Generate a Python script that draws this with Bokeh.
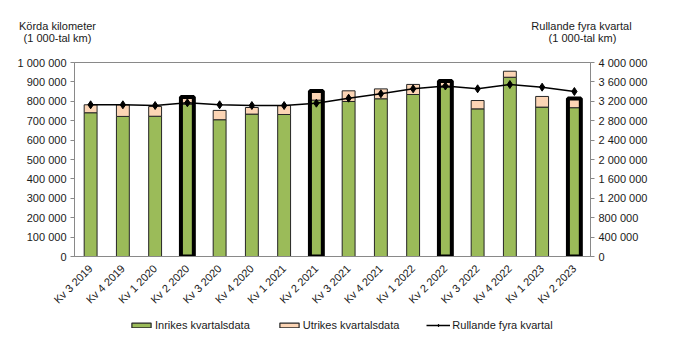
import math
from bokeh.plotting import figure
from bokeh.models import (FactorRange, Range1d, LinearAxis, FixedTicker, CustomJSTickFormatter,
                          Legend, LegendItem, ColumnDataSource, Column, Row)
from bokeh.core.properties import value
from bokeh.embed import file_html
from bokeh.resources import INLINE

categories = ["Kv 3 2019", "Kv 4 2019", "Kv 1 2020", "Kv 2 2020", "Kv 3 2020", "Kv 4 2020",
              "Kv 1 2021", "Kv 2 2021", "Kv 3 2021", "Kv 4 2021", "Kv 1 2022", "Kv 2 2022",
              "Kv 3 2022", "Kv 4 2022", "Kv 1 2023", "Kv 2 2023"]
inrikes = [741000, 722000, 723000, 785000, 705000, 734000, 732000, 806000,
           799000, 813000, 835000, 872000, 761000, 924000, 770000, 767000]
utrikes = [41000, 60000, 50000, 37000, 48000, 34000, 46000, 47000,
           55000, 51000, 52000, 33000, 43000, 31000, 55000, 47000]
rullande = [3128000, 3128000, 3113000, 3169000, 3128000, 3113000, 3113000, 3161000,
            3264000, 3355000, 3458000, 3515000, 3458000, 3546000, 3491000, 3402000]
markerade = ["Kv 2 2020", "Kv 2 2021", "Kv 2 2022", "Kv 2 2023"]

left_ticks = list(range(0, 1000001, 100000))
right_ticks = list(range(0, 4000001, 400000))

left_title = ["Körda kilometer", "(1 000-tal km)"]
right_title = ["Rullande fyra kvartal", "(1 000-tal km)"]
series_names = ["Inrikes kvartalsdata", "Utrikes kvartalsdata", "Rullande fyra kvartal"]

FONT = "Liberation Sans"
TXT = "#1a1a1a"
GRAY = "#898989"
GREEN = "#9BBB59"
PEACH = "#FCD5B5"
OUT = "#262626"
W = 678
TOP_H = 50
MAIN_H = 263
LEG_H = 354 - TOP_H - MAIN_H

src = ColumnDataSource(dict(cat=categories, inrikes=inrikes, utrikes=utrikes, rullande=rullande))
tot = {c: i + u for c, i, u in zip(categories, inrikes, utrikes)}
hl = ColumnDataSource(dict(cat=markerade, top=[tot[c] for c in markerade]))


def strip(h, x_range, y_range):
    f = figure(width=W, height=h, x_range=x_range, y_range=y_range,
               output_backend="svg", toolbar_location=None,
               min_border_left=0, min_border_right=0, min_border_top=0, min_border_bottom=0)
    f.axis.visible = False
    f.grid.visible = False
    f.outline_line_color = None
    return f


# ---- title strip ----
t = strip(TOP_H, Range1d(0, W), Range1d(0, TOP_H))
t.text(x=[57, 57, 581, 582], y=[TOP_H - 25, TOP_H - 37, TOP_H - 25, TOP_H - 37],
       text=left_title + right_title,
       text_align="center", text_baseline="middle", text_font=value(FONT),
       text_font_size="11px", text_color=TXT)

# ---- main chart ----
p = figure(width=W, height=MAIN_H, x_range=FactorRange(*categories, range_padding=0),
           y_range=Range1d(0, 1000000), output_backend="svg", toolbar_location=None,
           min_border_left=74, min_border_right=88, min_border_top=62 - TOP_H,
           min_border_bottom=MAIN_H - (62 - TOP_H) - 194)
p.extra_y_ranges = {"r": Range1d(0, 4000000)}
p.xgrid.grid_line_color = None
p.ygrid.grid_line_color = None
p.outline_line_color = GRAY

fmt_code = r"return Math.round(tick).toString().replace(/\B(?=(\d{3})+(?!\d))/g, ' ');"

yl = p.yaxis[0]
yl.ticker = FixedTicker(ticks=left_ticks)
yl.formatter = CustomJSTickFormatter(code=fmt_code)

yr = LinearAxis(y_range_name="r", ticker=FixedTicker(ticks=right_ticks),
                formatter=CustomJSTickFormatter(code=fmt_code))
p.add_layout(yr, "right")

for ax in (yl, yr):
    ax.axis_line_color = GRAY
    ax.major_tick_line_color = GRAY
    ax.major_tick_out = 4
    ax.major_tick_in = 0
    ax.minor_tick_line_color = None
    ax.major_label_text_font = FONT
    ax.major_label_text_font_size = "11px"
    ax.major_label_text_color = TXT
    ax.major_label_standoff = 4

xa = p.xaxis[0]
xa.axis_line_color = GRAY
xa.major_tick_line_color = None
xa.minor_tick_line_color = None
xa.major_label_orientation = math.pi / 4
xa.major_label_text_font = FONT
xa.major_label_text_font_size = "11px"
xa.major_label_text_color = TXT
xa.major_label_standoff = 4

p.vbar_stack(["inrikes", "utrikes"], x="cat", width=0.4, source=src,
             fill_color=[GREEN, PEACH], line_color=OUT, line_width=1)
p.vbar(x="cat", top="top", width=0.4, source=hl, fill_color=None,
       line_color="black", line_width=4)
p.line(x="cat", y="rullande", source=src, y_range_name="r", line_color="black", line_width=1.5)
p.scatter(x="cat", y="rullande", source=src, y_range_name="r", marker="diamond",
          size=8, fill_color="black", line_color="black")

# ---- legend strip: same series, its range set far above them so only the key shows ----
lg = strip(LEG_H, FactorRange(*categories, range_padding=0), Range1d(1e8, 2e8))
r1 = lg.vbar(x="cat", top="inrikes", width=0.4, source=src, fill_color=GREEN, line_color=OUT,
             line_width=1.2)
r2 = lg.vbar(x="cat", top="utrikes", width=0.4, source=src, fill_color=PEACH, line_color=OUT,
             line_width=1.2)
r3 = lg.line(x="cat", y="rullande", source=src, line_color="black", line_width=1.5)
r4 = lg.scatter(x="cat", y="rullande", source=src, marker="diamond", size=7,
                fill_color="black", line_color="black")
legend = Legend(items=[LegendItem(label=series_names[0], renderers=[r1]),
                       LegendItem(label=series_names[1], renderers=[r2]),
                       LegendItem(label=series_names[2], renderers=[r3, r4])],
                orientation="horizontal", location=(129, LEG_H - 12 - 6), border_line_color=None,
                background_fill_alpha=0, padding=0, margin=0, spacing=27,
                glyph_width=24, glyph_height=6, label_standoff=2, label_height=12,
                label_text_font=FONT, label_text_font_size="11px", label_text_color=TXT)
lg.add_layout(legend)

layout = Column(children=[Row(children=[t]), p, Row(children=[lg])], spacing=0)
open("out.html", "w").write(file_html(layout, INLINE))
